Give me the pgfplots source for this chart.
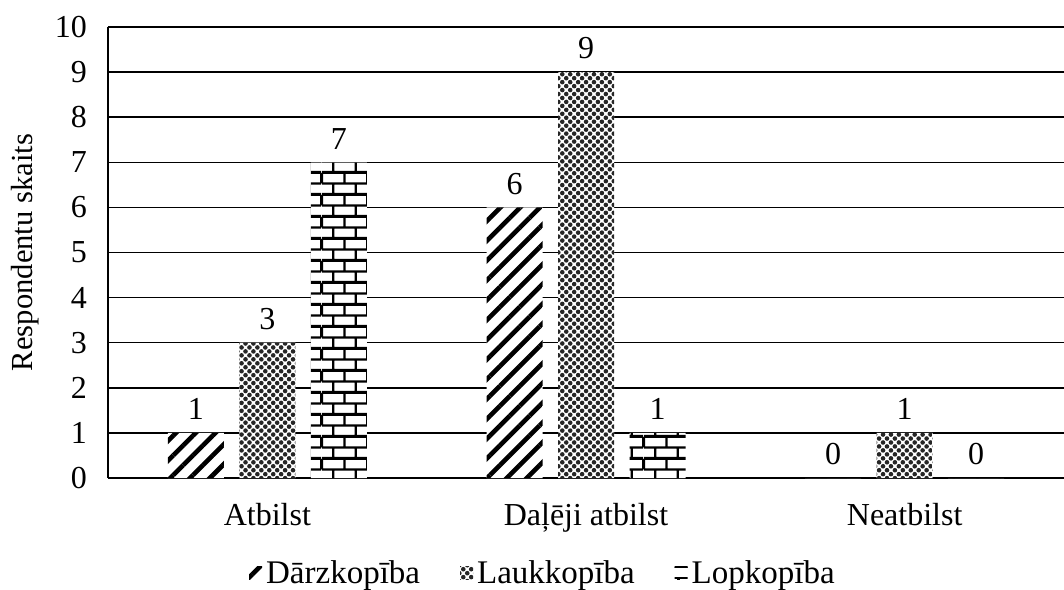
\documentclass[border=0pt]{standalone}
\usepackage{fontspec}
\setmainfont{Liberation Serif}
\usepackage{pgfplots}
\pgfplotsset{compat=1.18}
\usetikzlibrary{patterns,patterns.meta}

\pgfdeclarepatternformonly{mybricks}{\pgfqpoint{0pt}{0pt}}{\pgfqpoint{23pt}{11pt}}{\pgfqpoint{23pt}{11pt}}{%
 \pgfsetlinewidth{1.1pt}%
 \pgfpathmoveto{\pgfqpoint{0pt}{0pt}}\pgfpathlineto{\pgfqpoint{23pt}{0pt}}%
 \pgfpathmoveto{\pgfqpoint{0pt}{11pt}}\pgfpathlineto{\pgfqpoint{23pt}{11pt}}%
 \pgfpathmoveto{\pgfqpoint{0pt}{5.5pt}}\pgfpathlineto{\pgfqpoint{23pt}{5.5pt}}%
 \pgfpathmoveto{\pgfqpoint{5.75pt}{0pt}}\pgfpathlineto{\pgfqpoint{5.75pt}{5.5pt}}%
 \pgfpathmoveto{\pgfqpoint{17.25pt}{0pt}}\pgfpathlineto{\pgfqpoint{17.25pt}{5.5pt}}%
 \pgfpathmoveto{\pgfqpoint{0pt}{5.5pt}}\pgfpathlineto{\pgfqpoint{0pt}{11pt}}%
 \pgfpathmoveto{\pgfqpoint{23pt}{5.5pt}}\pgfpathlineto{\pgfqpoint{23pt}{11pt}}%
 \pgfpathmoveto{\pgfqpoint{11.5pt}{5.5pt}}\pgfpathlineto{\pgfqpoint{11.5pt}{11pt}}%
 \pgfusepath{stroke}%
}

\newcommand{\bigfont}{\fontsize{16}{19}\selectfont}

\begin{document}
\begin{tikzpicture}
\useasboundingbox (-54pt,-55.5pt) rectangle (478pt,239pt);
\begin{axis}[
  scale only axis, width=478pt, height=225.5pt,
  at={(0pt,0pt)}, anchor=south west,
  ybar=7.75pt, bar width=28pt,
  xmin=-0.5, xmax=2.5, ymin=0, ymax=10,
  xtick={0,1,2},
  xticklabels={Atbilst, Daļēji atbilst, Neatbilst},
  ytick={0,1,2,3,4,5,6,7,8,9,10},
  axis lines=left,
  axis line style={-, line width=0.75pt, black},
  major tick length=0pt,
  ymajorgrids,
  grid style={black, line width=0.75pt},
  /pgf/number format/assume math mode=true,
  tick label style={font=\bigfont},
  yticklabel style={xshift=-7pt},
  xticklabel style={yshift=-9pt},
  ylabel={Respondentu skaits},
  ylabel style={font=\fontsize{15.3}{18}\selectfont, at={(axis description cs:-0.0868,0.5)}, anchor=center},
  nodes near coords,
  every node near coord/.append style={font=\bigfont, yshift=3pt, black},
  legend style={font=\fontsize{16.5}{19}\selectfont, draw=none, legend columns=3, at={(axis description cs:0.456,-0.212)}, anchor=center,
    /tikz/every even column/.append style={column sep=18pt}},
  legend image code/.code={\path[#1] (0pt,-3pt) rectangle (6.5pt,3.5pt);},
]
\addplot[draw=none, fill=white, postaction={pattern={Lines[angle=45, distance=7pt, line width=2.3pt]}, pattern color=black}]
  coordinates {(0,1) (1,6) (2,0)};
\addplot[draw=none, fill=white, postaction={pattern={Dots[angle=45, distance=2.8pt, radius=1.15pt]}, pattern color=black!85}]
  coordinates {(0,3) (1,9) (2,1)};
\addplot[draw=none, fill=white, postaction={pattern=mybricks, pattern color=black}]
  coordinates {(0,7) (1,1) (2,0)};
\legend{Dārzkopība, Laukkopība, Lopkopība}
\end{axis}
\end{tikzpicture}
\end{document}
